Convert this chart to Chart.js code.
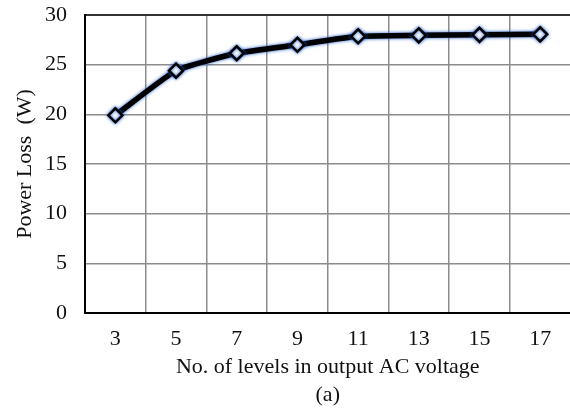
<!DOCTYPE html>
<html>
<head>
<meta charset="utf-8">
<script src="https://cdn.jsdelivr.net/npm/chart.js@4"></script>
<style>
  html, body { margin: 0; padding: 0; background: #fff; overflow: hidden; }
  #wrap { width: 580px; height: 409px; position: relative; }
</style>
</head>
<body>
<div id="wrap"><canvas id="loss-chart"></canvas></div>
<script>
// Datos del gráfico
const levels = ["3", "5", "7", "9", "11", "13", "15", "17"];
const powerLoss = [19.9, 24.4, 26.15, 27.0, 27.85, 27.95, 28.0, 28.05];
const yTicks = [0, 5, 10, 15, 20, 25, 30];

const serif = "'Liberation Serif', 'Times New Roman', serif";
const labelFont = { family: serif, size: 22 };

// Sombra azul alrededor de los rombos
const glowPlugin = {
  id: "glow",
  beforeDatasetDraw(chart) {
    chart.ctx.save();
    chart.ctx.shadowColor = "rgba(30, 90, 200, 1)";
    chart.ctx.shadowBlur = 3.5;
  },
  afterDatasetDraw(chart) {
    chart.ctx.restore();
  },
};

const ctx = document.getElementById("loss-chart").getContext("2d");
new Chart(ctx, {
  type: "line",
  data: {
    labels: levels,
    datasets: [
      {
        data: powerLoss,
        borderColor: "#000",
        borderWidth: 5.5,
        tension: 0.15,
        pointStyle: "rectRot",
        pointRadius: 7,
        pointBorderWidth: 2.5,
        pointBorderColor: "#000",
        pointBackgroundColor: "#fff",
      },
    ],
  },
  options: {
    responsive: true,
    maintainAspectRatio: false,
    animation: false,
    layout: { padding: { top: 15, right: 8, bottom: 0, left: 0 } },
    plugins: {
      legend: { display: false },
      tooltip: { enabled: false },
    },
    scales: {
      x: {
        offset: true,
        afterFit: scale => {
          scale.height = 96;
        },
        grid: {
          offset: true,
          color: "#8c8c8c",
          lineWidth: 1.5,
          drawTicks: false,
        },
        border: { color: "#000", width: 2 },
        ticks: { padding: 13, color: "#111", font: labelFont },
        title: {
          display: true,
          text: ["No. of levels in output AC voltage", "(a)"],
          color: "#111",
          font: { family: serif, size: 22, lineHeight: 1.27 },
          padding: { top: 0, bottom: 0 },
        },
      },
      y: {
        min: 0,
        max: 30,
        afterBuildTicks: scale => {
          scale.ticks = yTicks.map(v => ({ value: v }));
        },
        afterFit: scale => {
          scale.width = 85;
          scale.paddingTop = 0;
        },
        grid: {
          color: c => (c.tick.value === 30 ? "#333" : "#8c8c8c"),
          lineWidth: c => (c.tick.value === 30 ? 2 : 1.5),
          drawTicks: false,
        },
        border: { color: "#000", width: 2 },
        ticks: { padding: 18, color: "#111", font: labelFont },
        title: {
          display: true,
          text: "Power Loss  (W)",
          color: "#111",
          font: labelFont,
          padding: { top: 12, bottom: 0 },
        },
      },
    },
  },
  plugins: [glowPlugin],
});
</script>
</body>
</html>
